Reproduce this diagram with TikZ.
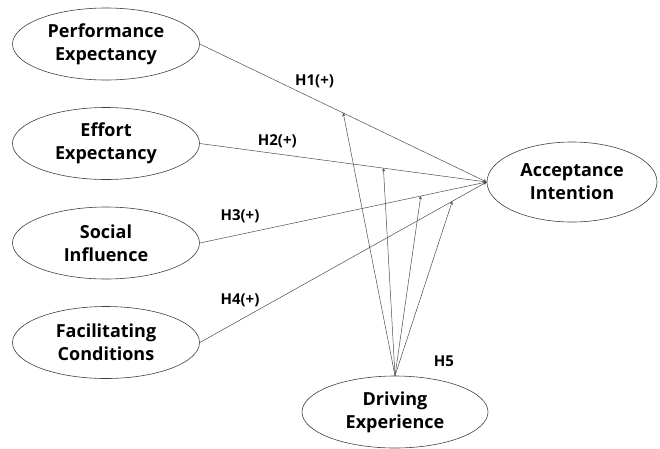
\documentclass[tikz,border=0pt]{standalone}
\usepackage{fontspec}
\setmainfont{Open Sans}
\usetikzlibrary{shapes.geometric}
\begin{document}
\begin{tikzpicture}[x=1pt, y=-1pt, ->, >=stealth, every node/.style={font=\bfseries\fontsize{18}{23}\selectfont, align=center}, construct/.style={draw=black!75, line width=0.6pt, ellipse, inner sep=0pt, minimum width=187pt, minimum height=72pt}, path/.style={draw=black!70, line width=0.5pt}, hyp/.style={font=\bfseries\fontsize{15}{18}\selectfont}, node distance=99.5pt]

	\useasboundingbox (0,0) rectangle (660,448);

	\node [construct] (PE) at (106,44) {Performance\\Expectancy};
	\node [construct] (EE) [below of = PE] {Effort\\Expectancy};
	\node [construct] (SI) [below of = EE] {Social\\Influence};
	\node [construct] (FC) [below of = SI] {Facilitating\\Conditions};
	\node [construct, minimum width=170pt, minimum height=80pt] (AI) at (572,182) {Acceptance\\Intention};
	\node [construct, minimum width=186pt] (DE) at (395,412) {Driving\\Experience};

	\draw [path] (PE.east) -- node[hyp, above=8pt, pos=0.4] {H1(+)} coordinate[pos=0.5] (m1) (AI.west);
	\draw [path] (EE.east) -- node[hyp, above=2pt, pos=0.27] {H2(+)} coordinate[pos=0.64] (m2) (AI.west);
	\draw [path] (SI.east) -- node[hyp, above=8pt, pos=0.14] {H3(+)} coordinate[pos=0.77] (m3) (AI.west);
	\draw [path] (FC.east) -- node[hyp, above=10pt, pos=0.14] {H4(+)} coordinate[pos=0.88] (m4) (AI.west);

	\foreach \m in {m1, m2, m3, m4}
		\draw [path] (DE.north) -- (\m);

	\node [hyp] (H5) at (444,361) {H5};

\end{tikzpicture}
\end{document}
